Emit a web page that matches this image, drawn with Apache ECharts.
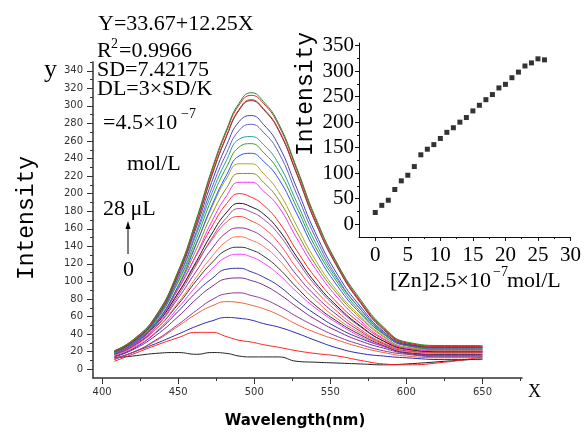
<!DOCTYPE html>
<html>
<head>
<meta charset="utf-8">
<script src="https://cdn.jsdelivr.net/npm/echarts@6/dist/echarts.min.js"></script>
<style>
  html, body { margin: 0; padding: 0; background: #fff; }
  #chart { width: 584px; height: 432px; }
</style>
</head>
<body>
<div id="chart"></div>
<script>
// wavelengths (nm) where the spectra are sampled
const wavelengths = [408, 420, 435, 450, 462, 472, 482, 490, 498, 506, 516, 528, 540, 555, 570, 585, 600, 625, 650];

// spectra, from 0 uL (bottom) to 28 uL (top)
const curve01 = [13, 15, 18, 19, 17, 19, 18, 15, 14, 14, 14, 9, 8, 7, 6, 5, 6, 9, 12];
const curve02 = [9, 17, 27, 36, 42, 42, 37, 33, 31, 28, 25, 21, 18, 15, 10, 6, 5, 8, 14];
const curve03 = [11, 19, 29, 40, 49, 55, 59, 58, 56, 52, 48, 41, 33, 24, 18, 15, 13, 11, 11];
const curve04 = [12, 19, 32, 49, 63, 72, 77, 76, 73, 69, 62, 51, 42, 33, 25, 19, 15, 13, 13];
const curve05 = [13, 19, 33, 51, 67, 79, 86, 87, 84, 80, 72, 60, 49, 37, 28, 21, 17, 14, 14];
const curve06 = [14, 22, 38, 60, 80, 94, 103, 104, 101, 96, 86, 71, 57, 43, 32, 24, 18, 15, 15];
const curve07 = [15, 23, 41, 66, 88, 103, 114, 115, 111, 105, 95, 78, 63, 47, 35, 26, 19, 16, 16];
const curve08 = [16, 24, 42, 70, 95, 114, 128, 131, 128, 121, 108, 88, 70, 52, 37, 26, 19, 17, 17];
const curve09 = [17, 26, 45, 74, 101, 121, 136, 139, 136, 129, 115, 93, 73, 54, 39, 27, 19, 17, 17];
const curve10 = [16, 25, 45, 76, 105, 128, 146, 151, 147, 140, 125, 100, 79, 57, 41, 28, 20, 18, 18];
const curve11 = [17, 26, 47, 81, 112, 137, 156, 161, 158, 150, 134, 107, 84, 61, 43, 29, 21, 19, 19];
const curve12 = [18, 28, 51, 87, 121, 147, 168, 174, 169, 161, 144, 115, 90, 65, 45, 30, 22, 19, 19];
const curve13 = [18, 27, 48, 84, 119, 149, 173, 183, 179, 171, 154, 124, 96, 69, 48, 32, 23, 20, 20];
const curve14 = [18, 28, 50, 87, 123, 154, 179, 189, 185, 177, 159, 128, 99, 71, 49, 32, 23, 20, 20];
const curve15 = [19, 30, 52, 92, 130, 162, 189, 200, 196, 187, 168, 135, 105, 75, 52, 34, 24, 21, 21];
const curve16 = [18, 28, 51, 91, 131, 168, 198, 213, 213, 203, 185, 149, 115, 81, 55, 35, 24, 21, 21];
const curve17 = [18, 29, 52, 94, 137, 176, 207, 223, 223, 213, 193, 156, 120, 85, 58, 37, 25, 22, 22];
const curve18 = [19, 31, 55, 99, 144, 184, 218, 234, 234, 223, 202, 163, 125, 88, 60, 38, 25, 22, 22];
const curve19 = [18, 29, 52, 95, 143, 186, 222, 243, 246, 237, 217, 177, 135, 94, 63, 40, 27, 23, 23];
const curve20 = [19, 30, 54, 100, 149, 194, 231, 253, 257, 247, 226, 184, 140, 98, 65, 40, 27, 23, 23];
const curve21 = [19, 30, 55, 103, 154, 200, 239, 262, 265, 256, 234, 190, 145, 101, 68, 42, 28, 24, 24];
const curve22 = [20, 31, 56, 104, 157, 206, 247, 272, 279, 270, 247, 199, 151, 103, 68, 41, 27, 24, 24];
const curve23 = [20, 31, 57, 107, 162, 213, 256, 282, 289, 279, 255, 206, 156, 107, 71, 43, 28, 25, 25];
const curve24 = [20, 31, 58, 109, 166, 220, 266, 295, 306, 296, 272, 222, 168, 115, 75, 45, 29, 25, 25];
const curve25 = [20, 32, 58, 109, 166, 221, 267, 296, 307, 297, 273, 223, 169, 116, 76, 46, 30, 26, 26];
const curve26 = [21, 33, 60, 111, 170, 225, 272, 301, 312, 303, 278, 227, 172, 118, 77, 47, 30, 26, 26];
const curve27 = [21, 33, 60, 112, 171, 227, 274, 303, 315, 305, 280, 229, 174, 119, 79, 48, 31, 27, 27];

// inset: peak intensity vs added Zn
const zincAdded = [0, 1, 2, 3, 4, 5, 6, 7, 8, 9, 10, 11, 12, 13, 14, 15, 16, 17, 18, 19, 20, 21, 22, 23, 24, 25, 26];
const peakIntensity = [23, 37, 47, 68, 85, 96, 113, 136, 147, 156, 168, 180, 189, 200, 209, 222, 233, 244, 254, 267, 274, 287, 298, 310, 316, 324, 322];

// tick values
const mainXTicks = [400, 450, 500, 550, 600, 650];
const mainXMinor = [425, 475, 525, 575, 625, 675];
const mainYTicks = [0, 20, 40, 60, 80, 100, 120, 140, 160, 180, 200, 220, 240, 260, 280, 300, 320, 340];
const mainYMinor = [10, 30, 50, 70, 90, 110, 130, 150, 170, 190, 210, 230, 250, 270, 290, 310, 330, 350];
const insetXTicks = [0, 5, 10, 15, 20, 25, 30];
const insetXMinor = [2.5, 7.5, 12.5, 17.5, 22.5, 27.5];
const insetYTicks = [0, 50, 100, 150, 200, 250, 300, 350];
const insetYMinor = [25, 75, 125, 175, 225, 275, 325];

const curves = [curve01, curve02, curve03, curve04, curve05, curve06, curve07, curve08, curve09,
  curve10, curve11, curve12, curve13, curve14, curve15, curve16, curve17, curve18, curve19,
  curve20, curve21, curve22, curve23, curve24, curve25, curve26, curve27];

const lineColors = ['#222222', '#ff1f1f', '#2a2aa8', '#f0603c', '#8a3a9a', '#7a2a8a', '#3434a0', '#ff3cff', '#333333',
  '#ff7450', '#933093', '#ff5040', '#a050b0', '#1a1a1a', '#ff2a2a', '#ff2cff', '#8c8c1c', '#a8a830', '#3050ff',
  '#2ea02e', '#2c9c9c', '#6060c0', '#4040b4', '#8b2c2c', '#a04040', '#e02828', '#2a8a2a'];

const serif = '"Liberation Serif", "DejaVu Serif", serif';
const mono = '"Liberation Mono", "DejaVu Sans Mono", monospace';

const myChart = echarts.init(document.getElementById('chart'), null, { renderer: 'canvas' });

const lineSeries = curves.map((c, i) => ({
  type: 'line',
  xAxisIndex: 0,
  yAxisIndex: 0,
  data: wavelengths.map((w, j) => [w, c[j]]),
  showSymbol: false,
  symbol: 'none',
  smooth: 0.5,
  lineStyle: { color: lineColors[i], width: 1 },
  z: 2 + i
}));

function txt(x, y, text, font, extra) {
  return Object.assign({
    type: 'text', x: x, y: y,
    style: { text: text, font: font, fill: '#000', textAlign: 'left', textVerticalAlign: 'middle' }
  }, extra || {});
}

myChart.setOption({
  animation: false,
  backgroundColor: '#fff',
  grid: [
    { left: 93, top: 62, width: 429, height: 316 },
    { left: 359, top: 43, width: 212, height: 194 }
  ],
  xAxis: [
    {
      gridIndex: 0, type: 'value', min: 394, max: 676,
      axisLine: { onZero: false, lineStyle: { color: '#333', width: 1.5 } },
      axisTick: { customValues: mainXTicks, length: 6, lineStyle: { color: '#333' } },
      axisLabel: { customValues: mainXTicks, color: '#333', fontSize: 10, fontFamily: 'DejaVu Sans', margin: 9 },
      splitLine: { show: false }
    },
    {
      gridIndex: 0, type: 'value', min: 394, max: 676, position: 'bottom',
      axisLine: { show: false, onZero: false },
      axisTick: { customValues: mainXMinor, length: 3, lineStyle: { color: '#333' } },
      axisLabel: { show: false },
      splitLine: { show: false }
    },
    {
      gridIndex: 1, type: 'value', min: -2.5, max: 30,
      axisLine: { onZero: false, lineStyle: { color: '#111', width: 1 } },
      axisTick: { customValues: insetXTicks, length: 4, lineStyle: { color: '#111' } },
      axisLabel: { customValues: insetXTicks, color: '#000', fontSize: 21, fontFamily: serif, margin: 8 },
      splitLine: { show: false }
    },
    {
      gridIndex: 1, type: 'value', min: -2.5, max: 30, position: 'bottom',
      axisLine: { show: false, onZero: false },
      axisTick: { customValues: insetXMinor, length: 2, lineStyle: { color: '#111' } },
      axisLabel: { show: false },
      splitLine: { show: false }
    }
  ],
  yAxis: [
    {
      gridIndex: 0, type: 'value', min: -10, max: 350,
      axisLine: { show: true, onZero: false, lineStyle: { color: '#333', width: 1.5 } },
      axisTick: { show: true, customValues: mainYTicks, length: 6, lineStyle: { color: '#333' } },
      axisLabel: { customValues: mainYTicks, color: '#333', fontSize: 10, fontFamily: 'DejaVu Sans', margin: 10 },
      splitLine: { show: false }
    },
    {
      gridIndex: 0, type: 'value', min: -10, max: 350, position: 'left',
      axisLine: { show: false, onZero: false },
      axisTick: { show: true, customValues: mainYMinor, length: 3, lineStyle: { color: '#333' } },
      axisLabel: { show: false },
      splitLine: { show: false }
    },
    {
      gridIndex: 1, type: 'value', min: -25, max: 355,
      axisLine: { show: true, onZero: false, lineStyle: { color: '#111', width: 1 } },
      axisTick: { show: true, customValues: insetYTicks, length: 4, lineStyle: { color: '#111' } },
      axisLabel: { customValues: insetYTicks, color: '#000', fontSize: 21, fontFamily: serif, margin: 5 },
      splitLine: { show: false }
    },
    {
      gridIndex: 1, type: 'value', min: -25, max: 355, position: 'left',
      axisLine: { show: false, onZero: false },
      axisTick: { show: true, customValues: insetYMinor, length: 2, lineStyle: { color: '#111' } },
      axisLabel: { show: false },
      splitLine: { show: false }
    }
  ],
  series: lineSeries.concat([
    {
      type: 'scatter',
      xAxisIndex: 2,
      yAxisIndex: 2,
      symbol: 'rect',
      symbolSize: 5,
      itemStyle: { color: '#000' },
      data: zincAdded.map((z, i) => [z, peakIntensity[i]])
    }
  ]),
  graphic: [
    txt(98, 24, 'Y=33.67+12.25X', '22px ' + serif),
    txt(97, 51, 'R', '22px ' + serif),
    txt(111, 44, '2', '14px ' + serif),
    txt(119, 51, '=0.9966', '22px ' + serif),
    txt(97, 70, 'SD=7.42175', '22px ' + serif),
    txt(97, 89, 'DL=3×SD/K', '22px ' + serif),
    txt(103, 123, '=4.5×10', '22px ' + serif),
    txt(181, 114, '−7', '14px ' + serif),
    txt(127, 164, 'mol/L', '22px ' + serif),
    txt(103, 209, '28 μL', '22px ' + serif),
    txt(123, 270, '0', '22px ' + serif),
    { type: 'line', shape: { x1: 128, y1: 254, x2: 128, y2: 227 }, style: { stroke: '#000', lineWidth: 1 } },
    { type: 'polygon', shape: { points: [[128, 221], [125.5, 229], [130.5, 229]] }, style: { fill: '#000' } },
    txt(44, 70, 'y', '26px ' + serif),
    txt(27, 218, 'Intensity', '23px ' + mono, { rotation: Math.PI / 2 }),
    txt(306, 94, 'Intensity', '23px ' + mono, { rotation: Math.PI / 2 }),
    txt(528, 392, 'X', '18px ' + serif),
    txt(295, 421, 'Wavelength(nm)', 'bold 15px "DejaVu Sans"'),
    txt(390, 281, '[Zn]2.5×10', '22px ' + serif),
    txt(493, 272, '−7', '14px ' + serif),
    txt(507, 281, 'mol/L', '22px ' + serif)
  ].map(function (g) {
    if (g.type === 'text' && (g.style.text === 'Intensity' || g.style.text === 'Wavelength(nm)')) {
      g.style.textAlign = 'center';
    }
    return g;
  })
});

window.addEventListener('resize', () => { myChart.resize(); });
</script>
</body>
</html>
